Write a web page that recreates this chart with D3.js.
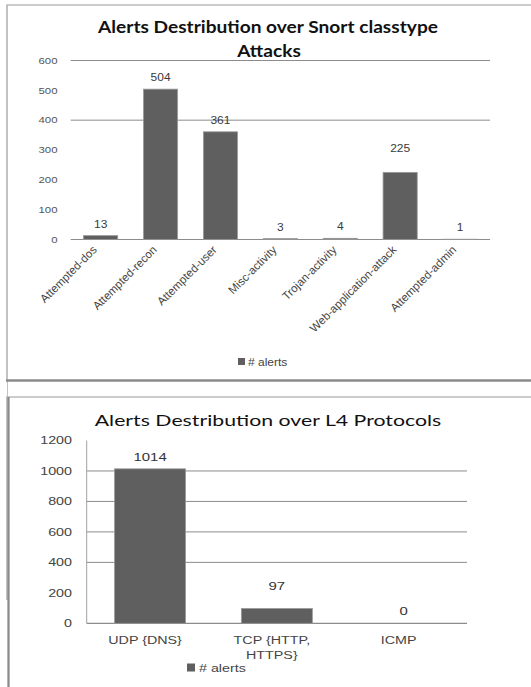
<!DOCTYPE html>
<html>
<head>
<meta charset="utf-8">
<script src="https://cdn.jsdelivr.net/npm/d3@7"></script>
<style>
  html, body { margin: 0; padding: 0; background: #fff; }
  svg { display: block; }
</style>
</head>
<body>
<svg id="c" width="531" height="687"></svg>
<script>
// Snort classtype alerts
const classCategories = ["Attempted-dos", "Attempted-recon", "Attempted-user", "Misc-activity",
  "Trojan-activity", "Web-application-attack", "Attempted-admin"];
const classAlerts = [13, 504, 361, 3, 4, 225, 1];
const classTicks = [0, 100, 200, 300, 400, 500, 600];
const classGrid = [400, 600];

// L4 protocol alerts
const protoCategories = [["UDP {DNS}"], ["TCP {HTTP,", "HTTPS}"], ["ICMP"]];
const protoAlerts = [1014, 97, 0];
const protoTicks = [0, 200, 400, 600, 800, 1000, 1200];
const protoGrid = [400, 600, 800, 1000];

const seriesName = "# alerts";

const svg = d3.select("#c");
const barFill = "#5f5f5f", barStroke = "#9a9a9a";
const font = "Liberation Sans, Arial, sans-serif";
const titleFont = "Lato, sans-serif";

// text placed at (x, y) and widened horizontally by sx
function wideText(parent, x, y, sx, str, anchor) {
  return parent.append("text")
    .attr("transform", `translate(${x},${y}) scale(${sx},1)`)
    .attr("text-anchor", anchor || "middle")
    .text(str);
}

// ---------- outer frames ----------
svg.append("path").attr("d", "M7,600 V5 H540").attr("fill", "none").attr("stroke", "#9a9a9a").attr("stroke-width", 1.2);
svg.append("line").attr("x1", 6).attr("x2", 540).attr("y1", 380.5).attr("y2", 380.5)
  .attr("stroke", "#8a8a8a").attr("stroke-width", 2.5);
svg.append("rect").attr("x", 0).attr("y", 382).attr("width", 7).attr("height", 14).attr("fill", "#fff");
svg.append("path").attr("d", "M8.5,700 V397 H540").attr("fill", "none").attr("stroke", "#9a9a9a").attr("stroke-width", 1.2);
svg.append("line").attr("x1", 8.5).attr("x2", 8.5).attr("y1", 397).attr("y2", 700)
  .attr("stroke", "#8a8a8a").attr("stroke-width", 2.2);

// ---------- chart 1: classtype ----------
{
  const sx = 1.2;
  const x = d3.scaleBand().domain(classCategories).range([70.7, 490]).paddingInner(0.43).paddingOuter(0.215);
  const y = d3.scaleLinear().domain([0, 600]).range([239.5, 60.5]);
  const g = svg.append("g");

  const tg = g.append("g").attr("font-family", titleFont).attr("font-weight", "bold")
    .attr("font-size", 16.5).attr("fill", "#111");
  wideText(tg, 268, 33, 1.16, "Alerts Destribution over Snort classtype");
  wideText(tg, 269, 57, 1.16, "Attacks");

  g.selectAll("line.grid").data(classGrid).join("line").attr("class", "grid")
    .attr("x1", 70.7).attr("x2", 490).attr("y1", d => y(d)).attr("y2", d => y(d))
    .attr("stroke", "#8c8c8c").attr("stroke-width", 1);

  // y tick labels
  const yt = g.append("g").attr("font-family", font).attr("font-size", 9.5).attr("fill", "#555");
  classTicks.forEach(v => wideText(yt, 57.5, y(v) + 3.3, sx, d3.format("d")(v), "end"));

  g.append("line").attr("x1", 70.7).attr("x2", 490).attr("y1", y(0)).attr("y2", y(0))
    .attr("stroke", "#8c8c8c").attr("stroke-width", 1.2);

  g.selectAll("rect.bar").data(classAlerts).join("rect").attr("class", "bar")
    .attr("x", (d, i) => x(classCategories[i])).attr("width", x.bandwidth())
    .attr("y", d => y(d)).attr("height", d => y(0) - y(d))
    .attr("fill", barFill).attr("stroke", barStroke).attr("stroke-width", 0.8);

  const vt = g.append("g").attr("font-family", font).attr("font-size", 10).attr("fill", "#3a3a3a");
  classAlerts.forEach((d, i) =>
    wideText(vt, x(classCategories[i]) + x.bandwidth() / 2, y(d) - (d === 225 ? 20 : 8), sx, d));

  g.selectAll("text.cat").data(classCategories).join("text").attr("class", "cat")
    .attr("transform", d => `translate(${x(d) + x.bandwidth() / 2 - 3},${y(0) + 11}) rotate(-45)`)
    .attr("text-anchor", "end").attr("font-family", font).attr("font-size", 11.5)
    .attr("fill", "#444").text(d => d);

  const lg = g.append("g").attr("font-family", font).attr("font-size", 10).attr("fill", "#444");
  lg.append("rect").attr("x", 238).attr("y", 358).attr("width", 7).attr("height", 7).attr("fill", barFill);
  wideText(lg, 248, 365.5, sx, seriesName, "start");
}

// ---------- chart 2: L4 protocols ----------
{
  const sx = 1.3;
  const labels = protoCategories.map(c => c.join(" "));
  const x = d3.scaleBand().domain(labels).range([86.7, 467]).paddingInner(0.44).paddingOuter(0.22);
  const y = d3.scaleLinear().domain([0, 1200]).range([623.3, 440.5]);
  const g = svg.append("g");

  const tg = g.append("g").attr("font-family", titleFont).attr("font-size", 16).attr("fill", "#111");
  wideText(tg, 268, 426, 1.33, "Alerts Destribution over L4 Protocols");

  g.selectAll("line.grid").data(protoGrid).join("line").attr("class", "grid")
    .attr("x1", 86.7).attr("x2", 467).attr("y1", d => y(d)).attr("y2", d => y(d))
    .attr("stroke", "#8c8c8c").attr("stroke-width", 1);

  g.append("line").attr("x1", 86.7).attr("x2", 86.7).attr("y1", y(1200)).attr("y2", y(0))
    .attr("stroke", "#a0a0a0").attr("stroke-width", 1);

  const yt = g.append("g").attr("font-family", font).attr("font-size", 11).attr("fill", "#444");
  protoTicks.forEach(v => wideText(yt, 72, y(v) + 3.8, sx, d3.format("d")(v), "end"));

  g.append("line").attr("x1", 86.7).attr("x2", 467).attr("y1", y(0)).attr("y2", y(0))
    .attr("stroke", "#8c8c8c").attr("stroke-width", 1.2);

  g.selectAll("rect.bar").data(protoAlerts).join("rect").attr("class", "bar")
    .attr("x", (d, i) => x(labels[i])).attr("width", x.bandwidth())
    .attr("y", d => y(d)).attr("height", d => y(0) - y(d))
    .attr("fill", barFill).attr("stroke", barStroke).attr("stroke-width", 0.8);

  const vt = g.append("g").attr("font-family", font).attr("font-size", 11.5).attr("fill", "#333");
  protoAlerts.forEach((d, i) =>
    wideText(vt, x(labels[i]) + x.bandwidth() / 2, y(d) - (d === 97 ? 19 : 8), sx, d));

  const ct = g.append("g").attr("font-family", font).attr("font-size", 11).attr("fill", "#444");
  protoCategories.forEach((lines, i) =>
    lines.forEach((line, k) =>
      wideText(ct, x(labels[i]) + x.bandwidth() / 2 - 5, y(0) + 21 + k * 15, sx, line)));

  const lg = g.append("g").attr("font-family", font).attr("font-size", 11).attr("fill", "#444");
  lg.append("rect").attr("x", 187).attr("y", 663.5).attr("width", 8).attr("height", 8).attr("fill", barFill);
  wideText(lg, 199, 671.5, sx, seriesName, "start");
}
</script>
</body>
</html>
